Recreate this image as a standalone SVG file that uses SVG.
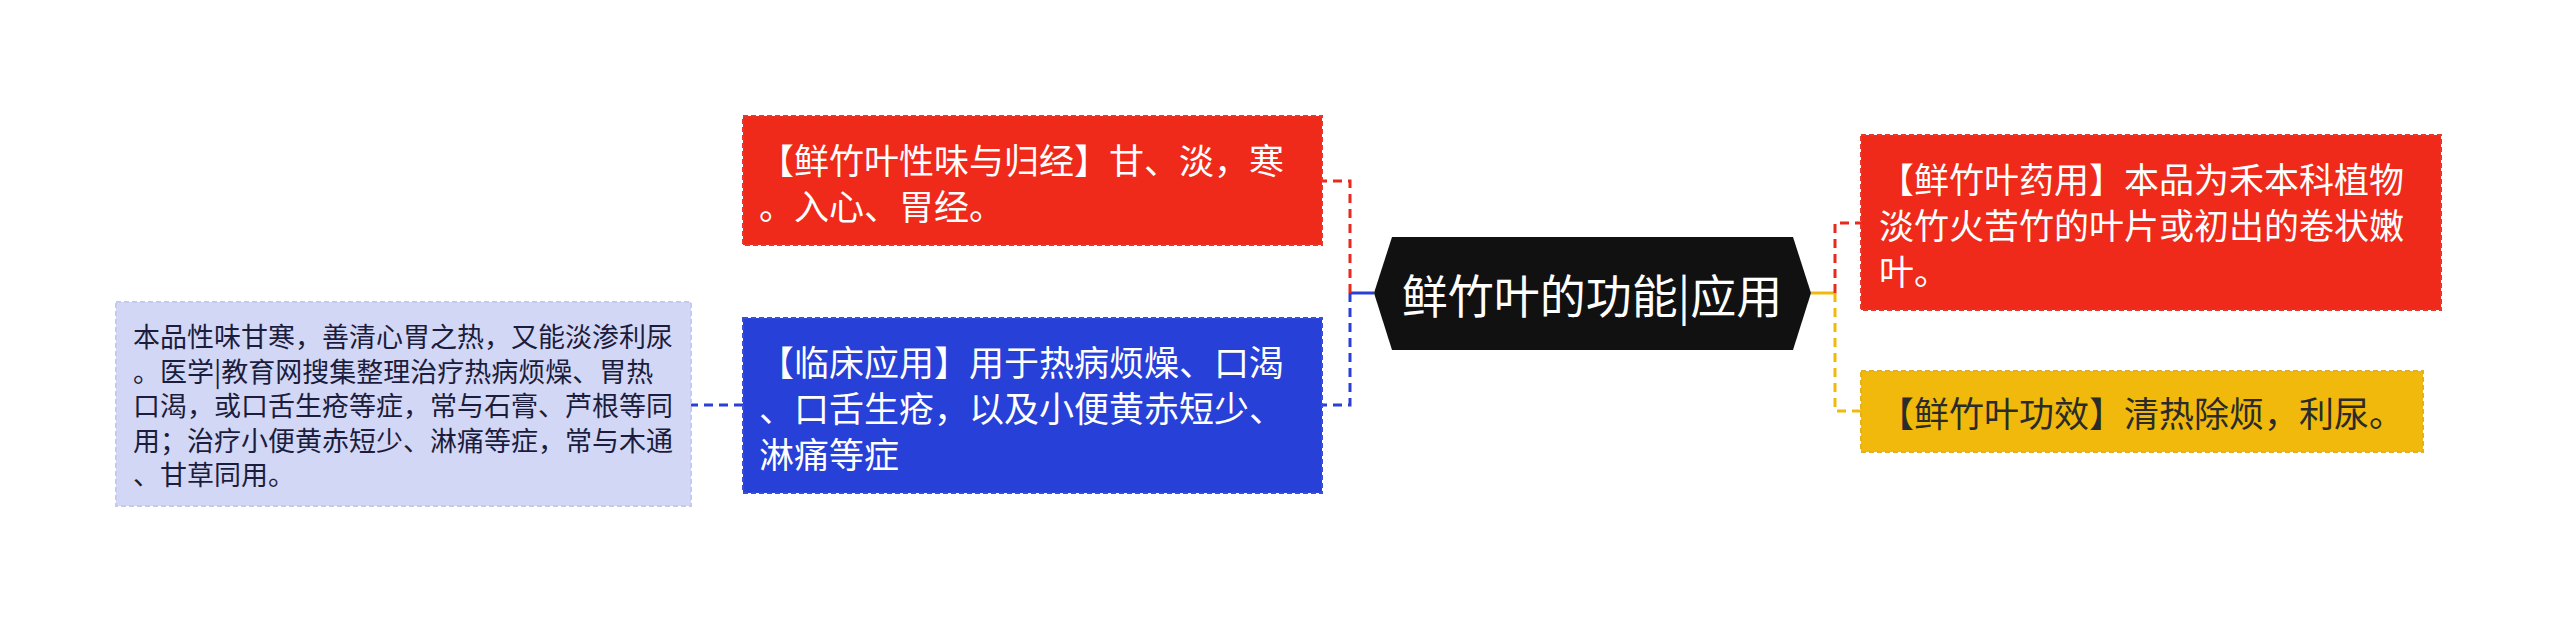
<svg xmlns="http://www.w3.org/2000/svg" width="2560" height="625" viewBox="0 0 2560 625">
<style>
.t{font-family:"Noto Sans CJK SC","Noto Sans",sans-serif;dominant-baseline:central}
.w{fill:#ffffff;font-size:35px}
.d{fill:#2b2b2b;font-size:35px}
.s{fill:#1c1d3c;font-size:27px}
.c{stroke-width:3;fill:none;stroke-dasharray:9 6}
.b{stroke-width:2;stroke-dasharray:5 3}
</style>
<rect width="2560" height="625" fill="#ffffff"/>
<g id="connectors">
<line x1="1374" y1="293" x2="1350" y2="293" stroke="#2a3fd6" stroke-width="3"/>
<path class="c" d="M1350 293 V181 H1322" stroke="#e8291c"/>
<path class="c" d="M1350 293 V405 H1322" stroke="#2a3fd6"/>
<path class="c" d="M743 405 H691" stroke="#2a3fd6"/>
<line x1="1811" y1="293" x2="1835" y2="293" stroke="#f0b90b" stroke-width="3"/>
<path class="c" d="M1835 293 V223 H1861" stroke="#e8291c"/>
<path class="c" d="M1835 293 V411 H1861" stroke="#f0b90b"/>
</g>
<g id="center">
<polygon points="1374,293 1392,237 1793,237 1811,293 1793,350 1392,350" fill="#111111"/>
<text class="t" x="1592" y="293" font-size="46" fill="#ffffff" text-anchor="middle">鲜竹叶的功能|应用</text>
</g>
<g id="n-xingwei">
<rect class="b" x="743" y="116" width="579" height="129" fill="#ef2a1b" stroke="#e23a2e"/>
<text class="t w" x="759" y="158">【鲜竹叶性味与归经】甘、淡，寒</text>
<text class="t w" x="759" y="204">。入心、胃经。</text>
</g>
<g id="n-linchuang">
<rect class="b" x="743" y="318" width="579" height="175" fill="#2740d8" stroke="#3a50d4"/>
<text class="t w" x="759" y="360">【临床应用】用于热病烦燥、口渴</text>
<text class="t w" x="759" y="406">、口舌生疮，以及小便黄赤短少、</text>
<text class="t w" x="759" y="452">淋痛等症</text>
</g>
<g id="n-detail">
<rect class="b" x="116" y="302" width="575" height="204" fill="#d3d7f6" stroke="#c4c9ee"/>
<text class="t s" x="133" y="335">本品性味甘寒，善清心胃之热，又能淡渗利尿</text>
<text class="t s" x="133" y="370">。医学|教育网搜集整理治疗热病烦燥、胃热</text>
<text class="t s" x="133" y="404">口渴，或口舌生疮等症，常与石膏、芦根等同</text>
<text class="t s" x="133" y="439">用；治疗小便黄赤短少、淋痛等症，常与木通</text>
<text class="t s" x="133" y="473">、甘草同用。</text>
</g>
<g id="n-yaoyong">
<rect class="b" x="1861" y="135" width="580" height="175" fill="#ef2a1b" stroke="#e23a2e"/>
<text class="t w" x="1879" y="177">【鲜竹叶药用】本品为禾本科植物</text>
<text class="t w" x="1879" y="223">淡竹火苦竹的叶片或初出的卷状嫩</text>
<text class="t w" x="1879" y="269">叶。</text>
</g>
<g id="n-gongxiao">
<rect class="b" x="1861" y="371" width="562" height="81" fill="#f0b90b" stroke="#e5b020"/>
<text class="t d" x="1879" y="411">【鲜竹叶功效】清热除烦，利尿。</text>
</g>
</svg>
